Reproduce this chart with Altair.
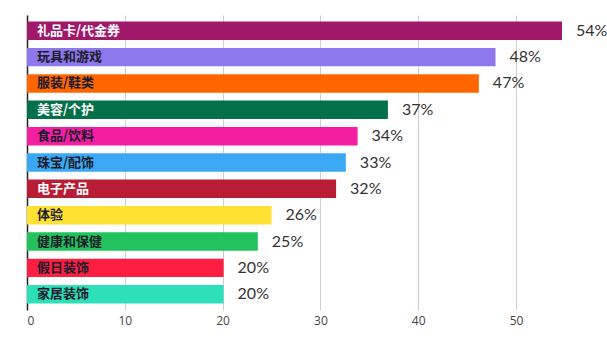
import altair as alt
import pandas as pd

categories = ["礼品卡/代金券", "玩具和游戏", "服装/鞋类", "美容/个护", "食品/饮料",
              "珠宝/配饰", "电子产品", "体验", "健康和保健", "假日装饰", "家居装饰"]
bar_values = [54.7, 47.9, 46.2, 36.9, 33.8, 32.6, 31.6, 25.0, 23.6, 20.1, 20.1]
value_labels = ["54%", "48%", "47%", "37%", "34%", "33%", "32%", "26%", "25%", "20%", "20%"]
bar_colors = ["#A0186A", "#8F77EE", "#FF6600", "#03704A", "#F21FA2", "#3AA8F5",
              "#B91D35", "#FEE133", "#22C35C", "#FD1E42", "#2EE0BA"]
white_label_cats = ["礼品卡/代金券", "美容/个护", "电子产品"]
x_ticks = [0, 10, 20, 30, 40, 50]

df = pd.DataFrame({"cat": categories, "val": bar_values, "lab": value_labels})

y = alt.Y("cat:N", sort=categories,
          scale=alt.Scale(paddingInner=0.30, paddingOuter=0.25),
          axis=alt.Axis(title=None, labels=False, ticks=False, domain=True,
                        domainColor="#222222", domainWidth=1.5, grid=False))
x = alt.X("val:Q", scale=alt.Scale(domain=[0, 59.3], nice=False, zero=True),
          axis=alt.Axis(title=None, values=x_ticks, domain=False, ticks=False,
                        grid=True, gridColor="#cfcfcf", gridWidth=1,
                        labelFont="Open Sans", labelFontSize=12, labelColor="#444444",
                        labelPadding=5))

base = alt.Chart(df)

bars = base.mark_bar().encode(
    x=x, y=y,
    color=alt.Color("cat:N", sort=categories,
                    scale=alt.Scale(domain=categories, range=bar_colors), legend=None),
)

cat_text = base.mark_text(align="left", baseline="middle", font="Noto Sans CJK SC",
                          fontSize=13, fontWeight="bold").encode(
    x=alt.value(10), y=y, text="cat:N",
    color=alt.condition(alt.FieldOneOfPredicate(field="cat", oneOf=white_label_cats),
                        alt.value("#ffffff"), alt.value("#1c1c2c")),
)

val_text = base.mark_text(align="left", baseline="middle", font="Lato",
                          fontSize=16, dx=14, color="#333333").encode(
    x=x, y=y, text="lab:N",
)

chart = alt.layer(bars, cat_text, val_text).properties(
    width=580, height=295,
    autosize=alt.AutoSizeParams(type="none"),
    padding={"left": 27, "top": 15, "right": 0, "bottom": 32},
).configure(background="#ffffff").configure_view(stroke=None)

chart.save("out.html", embed_options={"renderer": "svg", "actions": False})
